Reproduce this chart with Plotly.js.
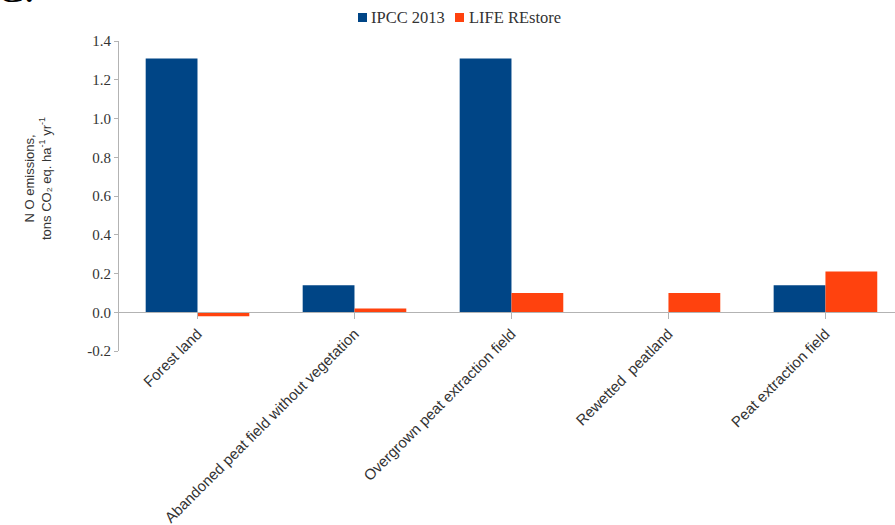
<!DOCTYPE html>
<html>
<head>
<meta charset="utf-8">
<script src="https://cdn.plot.ly/plotly-3.0.1.min.js"></script>
<style>html,body{margin:0;padding:0;background:#fff;}#chart{width:895px;height:525px;}</style>
</head>
<body>
<div id="chart"></div>
<script>
var categories = ["Forest land", "Abandoned peat field without vegetation", "Overgrown peat extraction field", "Rewetted  peatland", "Peat extraction field"];
var ipcc2013 = [1.31, 0.14, 1.31, 0, 0.14];
var lifeRestore = [-0.02, 0.02, 0.10, 0.10, 0.21];
var seriesNames = ["IPCC 2013", "LIFE REstore"];
var seriesColors = ['#004586', '#ff420e'];
var yTicks = [-0.2, 0.0, 0.2, 0.4, 0.6, 0.8, 1.0, 1.2, 1.4];

var catIdx = categories.map(function(_, i){ return i; });

var traces = [
  {type: 'bar', name: seriesNames[0], x: catIdx, y: ipcc2013, marker: {color: seriesColors[0]}},
  {type: 'bar', name: seriesNames[1], x: catIdx, y: lifeRestore, marker: {color: seriesColors[1]}}
];

// plot area geometry (pixels) used to place the hand-made legend
var L = 119, T = 41, W = 776, H = 310;
function px(x){ return (x - L) / W; }
function py(y){ return (T + H - y) / H; }

var legendSquaresX = [358, 455];
var legendTextX = [370, 468];
var shapes = [], legendAnn = [];
for (var i = 0; i < seriesNames.length; i++) {
  shapes.push({type: 'rect', xref: 'paper', yref: 'paper',
    x0: px(legendSquaresX[i]), x1: px(legendSquaresX[i] + 9), y0: py(22), y1: py(13),
    fillcolor: seriesColors[i], line: {width: 0}});
  legendAnn.push({xref: 'paper', yref: 'paper', x: px(legendTextX[i]), y: py(17),
    xanchor: 'left', yanchor: 'middle', showarrow: false, text: seriesNames[i],
    borderpad: 0, font: {family: 'Liberation Serif', size: 16.5, color: '#333'}});
}

var layout = {
  width: 895, height: 525,
  margin: {l: L, r: 0, t: T, b: 525 - T - H},
  paper_bgcolor: '#fff', plot_bgcolor: '#fff',
  barmode: 'group', bargap: 0.34, bargroupgap: 0,
  showlegend: false,
  xaxis: {
    range: [-0.5, 4.443], tickmode: 'array', tickvals: catIdx, ticktext: categories,
    tickangle: -45, tickson: 'boundaries', ticks: 'outside', ticklen: 6, tickcolor: '#b3b3b3',
    showline: true, linecolor: '#b3b3b3', linewidth: 1, showgrid: false, zeroline: false,
    anchor: 'free', position: 0.125,
    tickfont: {family: 'Liberation Sans', size: 15, color: '#333'}
  },
  yaxis: {
    range: [-0.2, 1.4], tickmode: 'array', tickvals: yTicks, ticktext: yTicks.map(function(v){return v.toFixed(1);}),
    ticks: 'outside', ticklen: 4, tickcolor: '#b3b3b3', showline: true, linecolor: '#b3b3b3', linewidth: 1,
    showgrid: false, zeroline: false,
    tickfont: {family: 'Liberation Serif', size: 15, color: '#333'}
  },
  shapes: shapes,
  annotations: [
    {xref: 'paper', yref: 'paper', x: -0.1044, y: 0.558, xanchor: 'center', yanchor: 'middle',
     textangle: -90, showarrow: false, align: 'center',
     text: 'N O emissions,<br>tons CO₂ eq. ha<sup>-1</sup> yr<sup>-1</sup>',
     font: {family: 'Liberation Sans', size: 13, color: '#333'}},
    {xref: 'paper', yref: 'paper', x: -0.161, y: 1.252, xanchor: 'left', yanchor: 'top',
     showarrow: false, text: 'C.', font: {family: 'Liberation Serif', size: 42, color: '#000'}}
  ].concat(legendAnn)
};

Plotly.newPlot('chart', traces, layout, {displayModeBar: false, staticPlot: true});
</script>
</body>
</html>
